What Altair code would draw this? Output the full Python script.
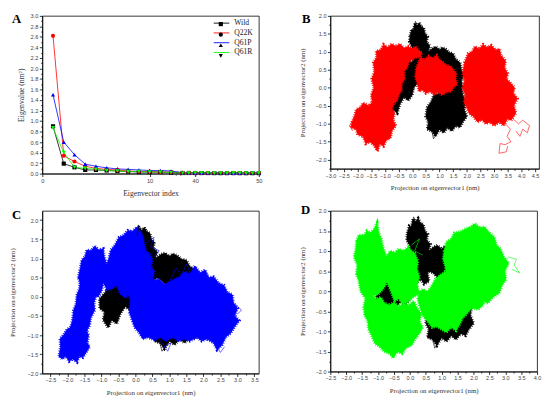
import altair as alt
import pandas as pd

# ---------------- Panel A: eigenvalues ----------------
SERIES = ["Wild", "Q22K", "Q61P", "Q61R"]
SERIES_COLORS = ["#000000", "#ff0000", "#0000ff", "#00ff00"]
SERIES_SHAPES = ["square", "circle", "triangle-up", "triangle-down"]

EIG_INDEX = [1, 2, 3, 4, 5, 6, 7, 8, 9, 10, 11, 12,
             38, 39, 40, 41, 42, 43, 44, 45, 46, 47, 48, 49, 50]
EIG_WILD = [0.90, 0.19, 0.12, 0.07, 0.07, 0.06, 0.05, 0.04, 0.03, 0.03, 0.03, 0.02,
            0.012, 0.012, 0.011, 0.011, 0.011, 0.010, 0.010, 0.010, 0.010, 0.009, 0.009, 0.009, 0.009]
EIG_Q22K = [2.62, 0.34, 0.23, 0.14, 0.10, 0.08, 0.07, 0.05, 0.04, 0.04, 0.03, 0.03,
            0.014, 0.013, 0.013, 0.012, 0.012, 0.012, 0.011, 0.011, 0.011, 0.010, 0.010, 0.010, 0.010]
EIG_Q61P = [1.50, 0.60, 0.36, 0.18, 0.14, 0.11, 0.09, 0.08, 0.07, 0.06, 0.06, 0.05,
            0.018, 0.018, 0.017, 0.017, 0.016, 0.016, 0.015, 0.015, 0.015, 0.014, 0.014, 0.014, 0.013]
EIG_Q61R = [0.87, 0.40, 0.12, 0.10, 0.08, 0.06, 0.05, 0.04, 0.04, 0.03, 0.03, 0.02,
            0.012, 0.012, 0.011, 0.011, 0.011, 0.010, 0.010, 0.010, 0.010, 0.010, 0.009, 0.009, 0.009]

# ---------------- Projection clouds (outlines of trajectory clouds) ----------------
WILD_SPIKE = [(-0.08, 1.45), (-0.02, 1.62), (0.05, 1.6), (0.1, 1.8), (0.18, 1.72), (0.26, 1.81),
              (0.33, 1.7), (0.42, 1.66), (0.47, 1.5), (0.56, 1.42), (0.52, 1.28), (0.64, 1.17),
              (0.58, 1.0), (0.7, 0.92), (0.62, 0.75), (0.66, 0.55), (0.55, 0.45), (0.6, 0.25),
              (0.45, 0.18), (0.35, 0.3), (0.2, 0.22), (0.15, 0.45), (0.02, 0.55), (0.08, 0.75),
              (-0.05, 0.95), (0.02, 1.1), (-0.1, 1.28)]
WILD_BAND = [(0.6, 1.0), (0.75, 1.1), (0.87, 1.14), (1.0, 1.05), (1.1, 1.12), (1.23, 1.07),
             (1.35, 0.98), (1.5, 0.95), (1.58, 0.8), (1.75, 0.7), (1.8, 0.5), (1.9, 0.35),
             (1.8, 0.2), (1.85, 0.0), (1.7, -0.1), (1.5, 0.05), (1.3, 0.1), (1.1, 0.25),
             (0.9, 0.3), (0.75, 0.45), (0.6, 0.5), (0.55, 0.7), (0.65, 0.85)]
WILD_LOW = [(0.55, -0.55), (0.7, -0.38), (0.8, -0.2), (1.0, -0.15), (1.15, -0.02), (1.3, 0.0),
            (1.5, 0.15), (1.62, 0.05), (1.8, 0.0), (1.85, -0.2), (1.95, -0.35), (1.9, -0.6),
            (2.0, -0.8), (1.85, -0.95), (1.75, -1.1), (1.6, -1.05), (1.45, -1.2), (1.3, -1.1),
            (1.15, -1.25), (1.0, -1.15), (0.85, -1.35), (0.72, -1.2), (0.55, -1.15),
            (0.6, -0.95), (0.5, -0.8)]
WILD_LEFT = [(-1.05, -0.05), (-0.9, 0.1), (-0.75, 0.3), (-0.55, 0.35), (-0.45, 0.6), (-0.3, 0.55),
             (-0.2, 0.8), (-0.05, 0.7), (0.1, 0.78), (0.2, 0.55), (0.12, 0.35), (0.22, 0.15),
             (0.05, 0.0), (0.0, -0.2), (-0.15, -0.35), (-0.3, -0.25), (-0.45, -0.45),
             (-0.55, -0.7), (-0.7, -0.6), (-0.8, -0.8), (-0.95, -0.6), (-0.9, -0.4), (-1.05, -0.3)]
WILD_TAILS = [[(0.72, -1.2), (0.78, -1.42), (0.88, -1.3)],
              [(0.05, 1.6), (0.12, 1.85), (0.2, 1.7)]]

Q22K_LOWLEFT = [(-2.2, -0.95), (-2.1, -0.75), (-2.05, -0.6), (-1.9, -0.55), (-1.8, -0.42),
                (-1.6, -0.5), (-1.45, -0.4), (-1.2, -0.48), (-1.0, -0.4), (-0.85, -0.55),
                (-0.65, -0.7), (-0.7, -0.9), (-0.6, -1.05), (-0.75, -1.2), (-0.8, -1.4),
                (-0.95, -1.45), (-1.05, -1.62), (-1.2, -1.55), (-1.28, -1.75), (-1.4, -1.6),
                (-1.55, -1.5), (-1.7, -1.55), (-1.8, -1.35), (-2.0, -1.3), (-2.05, -1.15),
                (-2.25, -1.1)]
Q22K_UPLEFT = [(-1.45, -0.45), (-1.5, -0.2), (-1.4, 0.0), (-1.48, 0.25), (-1.38, 0.45),
               (-1.42, 0.7), (-1.3, 0.85), (-1.32, 1.02), (-1.15, 1.05), (-1.05, 1.2),
               (-0.9, 1.12), (-0.75, 1.22), (-0.6, 1.15), (-0.45, 1.22), (-0.3, 1.1),
               (-0.15, 1.15), (0.0, 1.08), (0.12, 1.15), (0.22, 1.05), (0.35, 0.98),
               (0.3, 0.86), (0.12, 0.85), (-0.12, 0.72), (-0.2, 0.55), (-0.3, 0.45),
               (-0.28, 0.25), (-0.4, 0.1), (-0.38, -0.05), (-0.5, -0.2), (-0.55, -0.35),
               (-0.68, -0.45), (-0.75, -0.6), (-0.9, -0.62), (-1.05, -0.72), (-1.2, -0.6),
               (-1.35, -0.68)]
Q22K_MID = [(0.12, 0.3), (0.15, 0.55), (0.22, 0.68), (0.3, 0.85), (0.45, 0.78), (0.6, 0.88),
            (0.75, 0.82), (0.9, 0.9), (1.0, 0.78), (1.12, 0.72), (1.25, 0.62), (1.4, 0.6),
            (1.5, 0.5), (1.62, 0.4), (1.58, 0.25), (1.65, 0.1), (1.5, 0.0), (1.42, -0.1),
            (1.25, -0.12), (1.1, -0.2), (0.95, -0.12), (0.8, -0.18), (0.65, -0.1), (0.5, -0.15),
            (0.38, -0.05), (0.25, -0.1), (0.2, 0.1)]
Q22K_RIGHT = [(1.92, 0.7), (2.05, 0.95), (2.2, 1.0), (2.3, 1.15), (2.45, 1.08), (2.6, 1.2),
              (2.75, 1.12), (2.9, 1.18), (3.05, 1.05), (3.2, 1.08), (3.25, 0.9), (3.42, 0.75),
              (3.38, 0.55), (3.5, 0.4), (3.45, 0.25), (3.62, 0.12), (3.75, 0.0), (3.7, -0.15),
              (3.85, -0.3), (3.72, -0.5), (3.8, -0.7), (3.62, -0.9), (3.5, -0.85), (3.35, -1.05),
              (3.2, -0.95), (3.0, -1.05), (2.85, -0.95), (2.7, -1.0), (2.55, -0.88), (2.4, -0.95),
              (2.25, -0.8), (2.1, -0.72), (2.0, -0.55), (1.9, -0.4), (1.95, -0.2), (1.85, 0.0),
              (1.92, 0.2), (1.85, 0.4)]
Q22K_TAILS = [[(3.35, -0.95), (3.6, -1.15), (3.48, -1.35), (3.62, -1.5), (3.4, -1.58),
               (3.22, -1.55), (3.18, -1.82), (3.45, -1.78), (3.5, -1.62)],
              [(3.6, -0.8), (3.9, -1.0), (4.05, -0.9), (4.3, -1.05), (4.22, -1.25),
               (4.05, -1.15), (3.95, -1.35), (3.8, -1.2)],
              [(-1.2, -1.55), (-1.25, -1.78), (-1.32, -1.6)],
              [(-2.2, -0.95), (-2.3, -1.05), (-2.18, -1.2)]]

Q61P_FOOT = [(-2.25, -1.55), (-2.2, -1.3), (-2.22, -1.1), (-2.1, -0.98), (-2.02, -0.85),
             (-1.9, -0.8), (-1.8, -0.7), (-1.65, -0.75), (-1.55, -0.68), (-1.45, -0.85),
             (-1.38, -1.0), (-1.42, -1.2), (-1.35, -1.3), (-1.45, -1.45), (-1.55, -1.58),
             (-1.65, -1.55), (-1.72, -1.7), (-1.85, -1.62), (-1.95, -1.68), (-2.05, -1.55),
             (-2.15, -1.62)]
Q61P_STEM = [(-1.92, -0.85), (-1.85, -0.6), (-1.82, -0.35), (-1.75, -0.2), (-1.72, 0.05),
             (-1.65, 0.2), (-1.62, 0.4), (-1.45, 0.35), (-1.3, 0.3), (-1.1, 0.25), (-1.15, 0.05),
             (-1.22, -0.15), (-1.2, -0.35), (-1.32, -0.55), (-1.35, -0.75), (-1.45, -0.9),
             (-1.65, -0.85)]
Q61P_LOBE = [(-1.68, 0.5), (-1.62, 0.75), (-1.58, 0.95), (-1.48, 1.05), (-1.43, 1.22),
             (-1.3, 1.2), (-1.2, 1.32), (-1.08, 1.22), (-0.95, 1.25), (-0.92, 1.05),
             (-0.85, 0.85), (-0.9, 0.6), (-0.95, 0.35), (-1.0, 0.15), (-1.1, 0.0), (-1.3, 0.1),
             (-1.5, 0.1), (-1.6, 0.3)]
Q61P_CENTER = [(-0.95, 0.4), (-0.9, 0.7), (-0.78, 1.0), (-0.72, 1.22), (-0.6, 1.35),
               (-0.48, 1.55), (-0.35, 1.6), (-0.22, 1.73), (-0.1, 1.7), (0.05, 1.82),
               (0.12, 1.72), (0.2, 1.62), (0.25, 1.4), (0.3, 1.2), (0.42, 1.1), (0.5, 0.95),
               (0.45, 0.8), (0.55, 0.65), (0.5, 0.45), (0.35, 0.3), (0.2, 0.12), (0.05, 0.05),
               (-0.1, -0.05), (-0.2, 0.05), (-0.32, -0.02), (-0.45, 0.1), (-0.55, 0.3),
               (-0.7, 0.2), (-0.85, 0.2)]
Q61P_RIGHT = [(-0.15, 0.0), (-0.08, 0.3), (-0.05, 0.52), (0.1, 0.45), (0.25, 0.62), (0.4, 0.5),
              (0.55, 0.42), (0.7, 0.45), (0.85, 0.32), (1.0, 0.38), (1.15, 0.45), (1.3, 0.5),
              (1.45, 0.65), (1.6, 0.58), (1.75, 0.8), (1.9, 0.62), (2.05, 0.7), (2.15, 0.5),
              (2.3, 0.52), (2.45, 0.35), (2.6, 0.3), (2.7, 0.12), (2.85, 0.05), (2.88, -0.15),
              (3.0, -0.3), (2.92, -0.5), (3.05, -0.62), (2.9, -0.8), (2.8, -0.95), (2.65, -1.05),
              (2.55, -1.25), (2.4, -1.38), (2.3, -1.2), (2.1, -1.1), (1.95, -1.15), (1.8, -1.05),
              (1.6, -1.15), (1.45, -1.1), (1.25, -1.15), (1.1, -1.05), (0.9, -1.15), (0.75, -1.05),
              (0.55, -1.12), (0.35, -1.05), (0.22, -1.1), (0.1, -0.92), (-0.02, -0.8),
              (-0.1, -0.6), (-0.18, -0.4), (-0.15, -0.2)]
Q61P_TAILS = [[(0.7, -1.1), (0.95, -1.42), (1.05, -1.2), (0.85, -1.3)],
              [(2.35, -1.25), (2.5, -1.45), (2.62, -1.3)],
              [(0.3, 1.4), (0.55, 1.55), (0.45, 1.3), (0.7, 1.2), (0.55, 1.05)],
              [(2.95, -0.2), (3.12, -0.35), (3.0, -0.45)],
              [(1.0, 0.4), (1.2, 0.75), (1.35, 0.55), (1.5, 0.85), (1.62, 0.6)]]

Q61R_UPLEFT = [(-1.68, 1.25), (-1.6, 1.4), (-1.45, 1.38), (-1.35, 1.5), (-1.24, 1.45),
               (-1.12, 1.55), (-1.03, 1.7), (-0.98, 1.45), (-0.9, 1.3), (-0.85, 1.1),
               (-0.78, 0.95), (-0.75, 0.75), (-0.7, 0.55), (-0.78, 0.35), (-0.75, 0.18),
               (-0.85, 0.05), (-1.0, -0.08), (-1.15, -0.1), (-1.3, -0.22), (-1.42, -0.15),
               (-1.55, 0.0), (-1.6, 0.25), (-1.68, 0.42), (-1.65, 0.65), (-1.75, 0.85),
               (-1.7, 1.05)]
Q61R_CENTER = [(-0.88, 0.55), (-0.85, 0.78), (-0.72, 0.88), (-0.62, 1.0), (-0.48, 0.95),
               (-0.35, 1.05), (-0.2, 1.0), (-0.05, 1.1), (0.05, 1.0), (0.15, 0.95), (0.25, 0.75),
               (0.22, 0.55), (0.3, 0.35), (0.22, 0.15), (0.3, -0.05), (0.1, -0.15),
               (-0.12, -0.3), (-0.25, -0.3), (-0.35, -0.18), (-0.48, -0.25), (-0.55, -0.1),
               (-0.62, 0.05), (-0.7, 0.2), (-0.82, 0.3)]
Q61R_LOWLEFT = [(-1.4, -0.2), (-1.2, -0.12), (-1.05, -0.2), (-0.92, -0.15), (-0.8, -0.3),
                (-0.65, -0.35), (-0.5, -0.28), (-0.35, -0.38), (-0.2, -0.3), (-0.05, -0.36),
                (0.12, -0.25), (0.22, -0.42), (0.35, -0.55), (0.3, -0.75), (0.4, -0.9),
                (0.3, -1.05), (0.15, -1.2), (0.05, -1.35), (-0.1, -1.4), (-0.25, -1.55),
                (-0.4, -1.5), (-0.52, -1.66), (-0.65, -1.55), (-0.8, -1.5), (-0.95, -1.38),
                (-1.1, -1.3), (-1.2, -1.1), (-1.3, -0.95), (-1.32, -0.75), (-1.42, -0.6),
                (-1.45, -0.4)]
Q61R_UPRIGHT = [(1.08, 1.0), (1.15, 1.22), (1.3, 1.3), (1.4, 1.45), (1.6, 1.48), (1.75, 1.55),
                (1.9, 1.6), (2.05, 1.68), (2.2, 1.58), (2.35, 1.6), (2.5, 1.45), (2.65, 1.35),
                (2.72, 1.15), (2.85, 1.05), (2.95, 0.85), (3.1, 0.7), (2.98, 0.5), (3.02, 0.3),
                (2.9, 0.15), (2.8, -0.05), (2.6, -0.15), (2.45, -0.3), (2.3, -0.25), (2.1, -0.3),
                (1.95, -0.2), (1.8, -0.1), (1.6, -0.05), (1.45, 0.05), (1.3, 0.2), (1.15, 0.4),
                (1.12, 0.6), (1.05, 0.8)]
Q61R_MIDRIGHT = [(0.28, -0.05), (0.4, 0.05), (0.55, -0.02), (0.68, 0.12), (0.8, 0.3), (0.95, 0.4),
                 (1.1, 0.48), (1.25, 0.38), (1.4, 0.3), (1.55, 0.22), (1.75, 0.1), (1.95, 0.02),
                 (2.15, -0.05), (2.35, -0.15), (2.3, -0.35), (2.15, -0.45), (1.95, -0.42),
                 (1.8, -0.55), (1.65, -0.68), (1.55, -0.85), (1.45, -0.98), (1.3, -0.9),
                 (1.15, -1.02), (1.0, -0.95), (0.85, -0.88), (0.7, -0.9), (0.55, -0.75),
                 (0.4, -0.6), (0.32, -0.4), (0.25, -0.2)]
Q61R_TAILS = [[(2.95, 0.75), (3.1, 0.85), (3.35, 0.8), (3.28, 0.65), (3.45, 0.45), (3.2, 0.55)],
              [(0.05, 1.15), (0.3, 1.3), (0.15, 1.0), (0.4, 0.9)],
              [(-1.03, 1.7), (-1.1, 1.52), (-0.95, 1.6)],
              [(-0.52, -1.66), (-0.45, -1.5), (-0.6, -1.58)]]

WILD_BLOBS = {"spike": WILD_SPIKE, "band": WILD_BAND, "low": WILD_LOW, "left": WILD_LEFT}

SERIF = "Liberation Serif"
SANS = "Liberation Sans"


def polygon_frame(series, blobs):
    rows = []
    for name, pts in blobs.items():
        ring = pts + [pts[0]]
        for k, (x, y) in enumerate(ring):
            rows.append({"series": series, "poly": series + "-" + name, "ord": k, "x": x, "y": y})
    return pd.DataFrame(rows)


def tail_frame(series, tails):
    rows = []
    for j, pts in enumerate(tails):
        for k, (x, y) in enumerate(pts):
            rows.append({"series": series, "poly": series + "-t" + str(j), "ord": k, "x": x, "y": y})
    return pd.DataFrame(rows)


def ticked_axis(title, values, title_pad, major_test, title_size=7.0, label_size=5.6):
    return alt.Axis(
        title=title, values=values, grid=False, labelOverlap=False, labelFlush=False,
        labelExpr=f"({major_test}) ? format(datum.value, '.1f') : ''",
        tickSize={"condition": {"test": major_test, "value": 3}, "value": 1.6},
        labelFont=SANS, labelFontSize=label_size, labelColor="#444", labelPadding=1.5,
        titleFont=SERIF, titleFontSize=title_size, titleFontWeight="normal", titleColor="#333",
        titlePadding=title_pad, domainColor="black", tickColor="black", domainWidth=0.8, tickWidth=0.8,
    )


def letter_layer(letter, dx, dy):
    return alt.Chart(pd.DataFrame({"t": [letter]})).mark_text(
        font=SERIF, fontWeight="bold", fontSize=13, align="left", baseline="top", color="black"
    ).encode(x=alt.value(dx), y=alt.value(dy), text="t:N")


HALF = "abs(datum.value * 2 - round(datum.value * 2)) < 0.001"


def steps(lo, hi, step):
    n = int(round((hi - lo) / step))
    return [round(lo + step * k, 3) for k in range(n + 1)]


def traj_panel(letter, mut, mut_color, mut_blobs, mut_tails, xdom, ydom, xvals, yvals,
               w, h, leg_x, leg_y, ytitle_pad, xtitle_pad, letter_dx, letter_dy):
    dom = ["Wild", mut]
    rng = ["#000000", mut_color]
    x = alt.X("x:Q", scale=alt.Scale(domain=xdom, nice=False, zero=False),
              axis=ticked_axis("Projection on eigenvector1 (nm)", xvals, xtitle_pad, HALF))
    y = alt.Y("y:Q", scale=alt.Scale(domain=ydom, nice=False, zero=False),
              axis=ticked_axis("Projection on eigenvector2 (nm)", yvals, ytitle_pad, HALF))
    color = alt.Color("series:N", scale=alt.Scale(domain=dom, range=rng),
                      legend=alt.Legend(orient="none", legendX=leg_x, legendY=leg_y, title=None,
                                        symbolType="M-3,0L3,0", symbolSize=30, symbolStrokeWidth=1.4,
                                        labelFont=SERIF, labelFontSize=7.5, labelColor="#222",
                                        labelOffset=8.5, rowPadding=1.8, padding=0))
    fill = alt.Fill("series:N", scale=alt.Scale(domain=dom, range=rng), legend=None)
    wild_df = polygon_frame("Wild", WILD_BLOBS)
    mut_df = polygon_frame(mut, mut_blobs)
    tails_df = pd.concat([tail_frame("Wild", WILD_TAILS), tail_frame(mut, mut_tails)])
    common = dict(detail="poly:N", order="ord:Q")
    layers = []
    for df in (wild_df, mut_df):
        layers.append(alt.Chart(df).mark_line(strokeWidth=0.7, clip=True, strokeJoin="miter").encode(
            x=x, y=y, color=color, fill=fill, **common))
        # fuzzy trajectory fringe along the cloud outline
        layers.append(alt.Chart(df).mark_line(strokeWidth=3.2, strokeDash=[0.8, 1.6], clip=True).encode(
            x=x, y=y, color=color, **common))
    layers.append(alt.Chart(tails_df).mark_line(strokeWidth=0.6, clip=True).encode(
        x=x, y=y, color=color, **common))
    layers.append(letter_layer(letter, letter_dx, letter_dy))
    return alt.layer(*layers).properties(width=w, height=h)


# ---------------- Panel A chart ----------------
rowsA = []
for s, vals in zip(SERIES, [EIG_WILD, EIG_Q22K, EIG_Q61P, EIG_Q61R]):
    for i, v in zip(EIG_INDEX, vals):
        rowsA.append({"series": s, "s2": s + "_", "idx": i, "value": v})
dfA = pd.DataFrame(rowsA)

POS_EXPR = "datum.idx <= 12.5 ? datum.idx : 14.25 + (datum.idx - 40) * 0.593"
xA = alt.X("pos:Q", scale=alt.Scale(domain=[0, 20.18], nice=False, zero=False),
           axis=alt.Axis(title="Eigenvector index", values=[0, 10, 14.25, 20.18], grid=False,
                         labelOverlap=False, labelFlush=False,
                         labelExpr="datum.value < 12.5 ? format(datum.value, 'd') : format(round(40 + (datum.value - 14.25) / 0.593), 'd')",
                         tickSize=3, labelFont=SANS, labelFontSize=5.8, labelColor="#444", labelPadding=1.5,
                         titleFont=SERIF, titleFontSize=7.8, titleFontWeight="normal", titleColor="#333",
                         titlePadding=6, domainColor="black", tickColor="black", domainWidth=0.8, tickWidth=0.8))
TENTH = "round(datum.value * 10) % 2 == 0"
yA = alt.Y("value:Q", scale=alt.Scale(domain=[0, 3.0], nice=False, zero=False),
           axis=ticked_axis("Eigenvalue (nm²)", steps(0, 3.0, 0.1), 5, TENTH, title_size=7.8, label_size=5.8))

baseA = alt.Chart(dfA).transform_calculate(pos=POS_EXPR)
lineA = baseA.mark_line(strokeWidth=0.8).encode(
    x=xA, y=yA,
    color=alt.Color("series:N", scale=alt.Scale(domain=SERIES, range=SERIES_COLORS),
                    legend=alt.Legend(orient="none", legendX=179, legendY=3.5, title=None,
                                      symbolType="M-3,0L3,0", symbolSize=28, symbolStrokeWidth=0.9,
                                      labelFont=SERIF, labelFontSize=7.8, labelColor="#222",
                                      labelOffset=9, rowPadding=1.0, padding=0)))
S2 = [s + "_" for s in SERIES]
pointA = baseA.mark_point(filled=True, size=18, opacity=1).encode(
    x=xA, y=yA,
    fill=alt.Fill("s2:N", scale=alt.Scale(domain=S2, range=SERIES_COLORS), legend=None),
    shape=alt.Shape("s2:N", scale=alt.Scale(domain=S2, range=SERIES_SHAPES),
                    legend=alt.Legend(orient="none", legendX=179.7, legendY=5.9, title=None, symbolSize=18,
                                      labelExpr="''", labelFontSize=1, labelOffset=0,
                                      rowPadding=5.8, padding=0, symbolStrokeWidth=0)))
breakA = alt.Chart(pd.DataFrame({"idx": [12.75], "value": [0.0], "t": ["/ /"]})).transform_calculate(
    pos="datum.idx").mark_text(font=SANS, fontSize=8, color="#333", baseline="middle").encode(
    x=xA, y=yA, text="t:N")
chartA = alt.layer(lineA, pointA, breakA, letter_layer("A", -31, -3)).properties(width=221, height=161)

chartB = traj_panel("B", "Q22K", "#ff0000",
                    {"lowleft": Q22K_LOWLEFT, "upleft": Q22K_UPLEFT, "mid": Q22K_MID, "right": Q22K_RIGHT},
                    Q22K_TAILS, [-3.0, 4.65], [-2.25, 2.0], steps(-3.0, 4.5, 0.25), steps(-2.25, 2.0, 0.25),
                    213, 156, 176.8, 4.3, 10, 5, -29, -3)
chartC = traj_panel("C", "Q61P", "#0000ff",
                    {"foot": Q61P_FOOT, "stem": Q61P_STEM, "lobe": Q61P_LOBE, "center": Q61P_CENTER,
                     "right": Q61P_RIGHT},
                    Q61P_TAILS, [-2.74, 3.63], [-2.0, 2.24], steps(-2.5, 3.5, 0.25), steps(-2.0, 2.0, 0.25),
                    221, 166, 179.3, 6.3, 12, 5, -31, -2)
chartD = traj_panel("D", "Q61R", "#00ff00",
                    {"upleft": Q61R_UPLEFT, "center": Q61R_CENTER, "lowleft": Q61R_LOWLEFT,
                     "upright": Q61R_UPRIGHT, "midright": Q61R_MIDRIGHT},
                    Q61R_TAILS, [-2.5, 4.0], [-2.0, 2.0], steps(-2.5, 4.0, 0.25), steps(-2.0, 2.0, 0.25),
                    211, 164, 175.8, 3.3, 10, 5, -30, -7)

chart = alt.concat(chartA, chartB, chartC, chartD, columns=2, spacing={"row": 38, "column": 73},
                   bounds="flush", align="each").properties(
    padding=0, background="white"
).configure_view(stroke="black", strokeWidth=0.8)

chart.save("out.html", embed_options={"renderer": "svg", "actions": False})
